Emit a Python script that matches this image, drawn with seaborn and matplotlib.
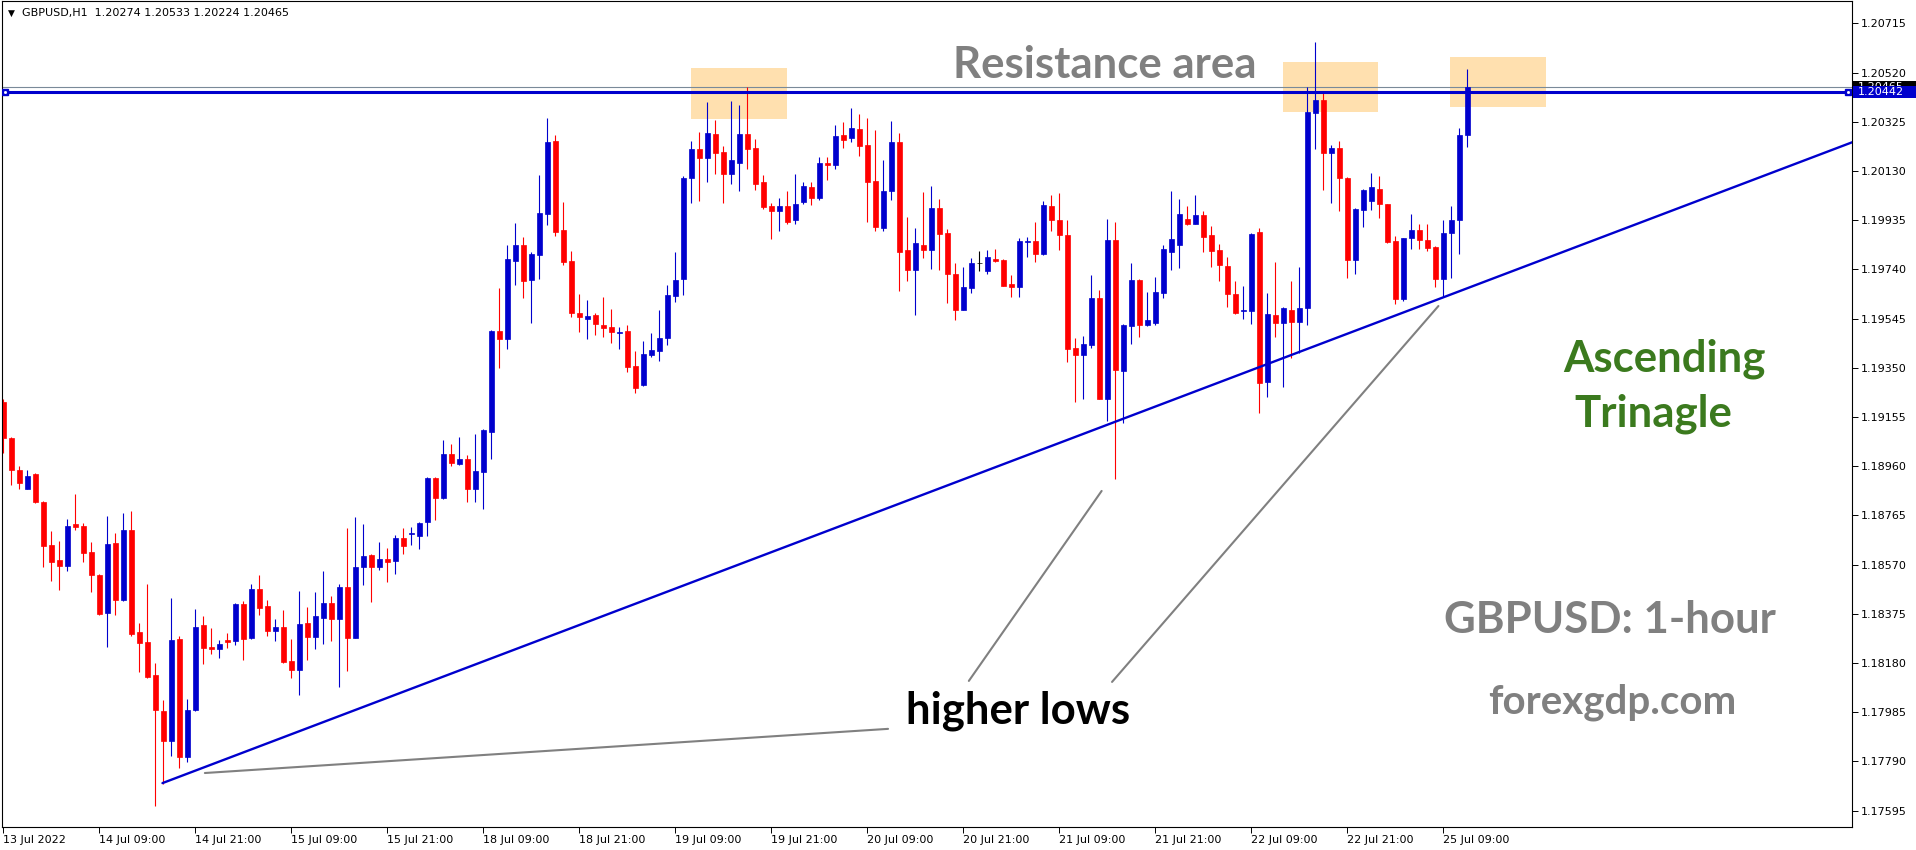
import matplotlib
matplotlib.use("Agg")
import matplotlib.pyplot as plt
import matplotlib.patches as mpatches
import matplotlib.transforms as mtransforms
import seaborn as sns
import pandas as pd
import numpy as np

sns.set_theme(style="white")
plt.rcParams['font.family'] = ['DejaVu Sans']

# GBPUSD H1 candles, one per hour from 13 Jul 21:00 to 25 Jul 12:00
opens = [
    1.19216, 1.19072, 1.18945, 1.18871, 1.18929, 1.18819, 1.18648, 1.18589, 1.18566, 1.18731,
    1.18723, 1.18620, 1.18529, 1.18380, 1.18656, 1.18430, 1.18708, 1.18303, 1.18264, 1.18133,
    1.17990, 1.17869, 1.18276, 1.17809, 1.17994, 1.18331, 1.18244, 1.18237, 1.18272, 1.18269,
    1.18414, 1.18280, 1.18474, 1.18406, 1.18305, 1.18323, 1.18188, 1.18154, 1.18339, 1.18285,
    1.18360, 1.18418, 1.18356, 1.18482, 1.18281, 1.18561, 1.18608, 1.18562, 1.18593, 1.18586,
    1.18676, 1.18693, 1.18685, 1.18737, 1.18914, 1.18836, 1.19009, 1.18967, 1.18989, 1.18871,
    1.18939, 1.19097, 1.19496, 1.19466, 1.19775, 1.19837, 1.19700, 1.19799, 1.19961, 1.20249,
    1.19897, 1.19774, 1.19568, 1.19545, 1.19560, 1.19520, 1.19512, 1.19490, 1.19496, 1.19358,
    1.19280, 1.19401, 1.19418, 1.19470, 1.19636, 1.19704, 1.20104, 1.20218, 1.20183, 1.20277,
    1.20206, 1.20120, 1.20163, 1.20277, 1.20222, 1.20087, 1.19992, 1.19973, 1.19992, 1.19934,
    1.20009, 1.20067, 1.20025, 1.20162, 1.20155, 1.20273, 1.20262, 1.20297, 1.20233, 1.20091,
    1.19906, 1.20052, 1.20245, 1.19817, 1.19739, 1.19837, 1.19819, 1.19984, 1.19885, 1.19723,
    1.19581, 1.19668, 1.19766, 1.19735, 1.19782, 1.19778, 1.19683, 1.19672, 1.19849, 1.19853,
    1.19803, 1.19992, 1.19936, 1.19878, 1.19429, 1.19399, 1.19442, 1.19628, 1.19228, 1.19858,
    1.19339, 1.19514, 1.19700, 1.19520, 1.19529, 1.19648, 1.19811, 1.19835, 1.19938, 1.19922,
    1.19957, 1.19878, 1.19819, 1.19755, 1.19644, 1.19577, 1.19577, 1.19890, 1.19292, 1.19561,
    1.19529, 1.19581, 1.19531, 1.19587, 1.20362, 1.20411, 1.20200, 1.20223, 1.20103, 1.19777,
    1.19976, 1.20012, 1.20057, 1.19999, 1.19853, 1.19622, 1.19863, 1.19896, 1.19857, 1.19829,
    1.19704, 1.19885, 1.19937, 1.20274,
]
highs = [
    1.19225, 1.19077, 1.18961, 1.18945, 1.18933, 1.18822, 1.18704, 1.18664, 1.18751, 1.18850,
    1.18734, 1.18660, 1.18532, 1.18763, 1.18696, 1.18775, 1.18783, 1.18339, 1.18494, 1.18179,
    1.18034, 1.18438, 1.18287, 1.18038, 1.18394, 1.18367, 1.18319, 1.18272, 1.18299, 1.18418,
    1.18426, 1.18494, 1.18529, 1.18430, 1.18355, 1.18391, 1.18276, 1.18466, 1.18402, 1.18462,
    1.18545, 1.18446, 1.18494, 1.18715, 1.18759, 1.18731, 1.18612, 1.18660, 1.18636, 1.18688,
    1.18715, 1.18719, 1.18739, 1.18916, 1.18916, 1.19064, 1.19048, 1.19076, 1.19005, 1.19088,
    1.19106, 1.19500, 1.19667, 1.19837, 1.19924, 1.19869, 1.19809, 1.20115, 1.20340, 1.20273,
    1.20008, 1.19813, 1.19643, 1.19619, 1.19568, 1.19631, 1.19583, 1.19512, 1.19520, 1.19417,
    1.19457, 1.19488, 1.19580, 1.19679, 1.19809, 1.20111, 1.20249, 1.20285, 1.20404, 1.20332,
    1.20229, 1.20408, 1.20392, 1.20463, 1.20257, 1.20115, 1.20004, 1.20025, 1.20051, 1.20118,
    1.20088, 1.20088, 1.20186, 1.20186, 1.20313, 1.20325, 1.20380, 1.20356, 1.20340, 1.20293,
    1.20174, 1.20329, 1.20281, 1.19949, 1.19904, 1.20045, 1.20071, 1.20021, 1.19901, 1.19767,
    1.19751, 1.19786, 1.19813, 1.19817, 1.19821, 1.19780, 1.19718, 1.19866, 1.19870, 1.19928,
    1.20012, 1.20035, 1.20043, 1.19934, 1.19470, 1.19478, 1.19718, 1.19659, 1.19938, 1.19930,
    1.19525, 1.19767, 1.19703, 1.19652, 1.19712, 1.19837, 1.20049, 1.20021, 1.19993, 1.20037,
    1.19973, 1.19914, 1.19839, 1.19791, 1.19696, 1.19676, 1.19885, 1.19906, 1.19648, 1.19771,
    1.19591, 1.19695, 1.19751, 1.20465, 1.20642, 1.20439, 1.20232, 1.20249, 1.20105, 1.19984,
    1.20057, 1.20122, 1.20111, 1.20001, 1.19874, 1.19866, 1.19958, 1.19922, 1.19922, 1.19831,
    1.19935, 1.19993, 1.20299, 1.20533,
]
lows = [
    1.19011, 1.18886, 1.18871, 1.18868, 1.18816, 1.18562, 1.18505, 1.18470, 1.18545, 1.18708,
    1.18581, 1.18463, 1.18369, 1.18245, 1.18371, 1.18424, 1.18289, 1.18145, 1.18120, 1.17615,
    1.17700, 1.17812, 1.17762, 1.17788, 1.17990, 1.18177, 1.18216, 1.18200, 1.18240, 1.18252,
    1.18192, 1.18277, 1.18371, 1.18287, 1.18268, 1.18182, 1.18121, 1.18055, 1.18192, 1.18237,
    1.18256, 1.18268, 1.18083, 1.18149, 1.18278, 1.18491, 1.18420, 1.18549, 1.18501, 1.18534,
    1.18614, 1.18649, 1.18630, 1.18685, 1.18748, 1.18832, 1.18959, 1.18963, 1.18820, 1.18820,
    1.18792, 1.18990, 1.19351, 1.19426, 1.19680, 1.19628, 1.19529, 1.19704, 1.19918, 1.19874,
    1.19759, 1.19553, 1.19494, 1.19466, 1.19482, 1.19474, 1.19450, 1.19426, 1.19335, 1.19252,
    1.19278, 1.19391, 1.19379, 1.19442, 1.19609, 1.19640, 1.20005, 1.20013, 1.20088, 1.20120,
    1.20005, 1.20080, 1.20052, 1.20140, 1.20056, 1.19981, 1.19862, 1.19894, 1.19922, 1.19922,
    1.20001, 1.19997, 1.20017, 1.20096, 1.20140, 1.20222, 1.20247, 1.20191, 1.19930, 1.19894,
    1.19894, 1.20017, 1.19656, 1.19696, 1.19561, 1.19787, 1.19743, 1.19739, 1.19605, 1.19541,
    1.19578, 1.19648, 1.19735, 1.19720, 1.19771, 1.19674, 1.19632, 1.19632, 1.19791, 1.19771,
    1.19799, 1.19894, 1.19819, 1.19375, 1.19216, 1.19228, 1.19430, 1.19225, 1.19141, 1.18909,
    1.19133, 1.19446, 1.19474, 1.19514, 1.19518, 1.19628, 1.19739, 1.19747, 1.19918, 1.19920,
    1.19811, 1.19751, 1.19696, 1.19593, 1.19562, 1.19545, 1.19525, 1.19169, 1.19236, 1.19474,
    1.19276, 1.19387, 1.19408, 1.19518, 1.20219, 1.20053, 1.20004, 1.19973, 1.19706, 1.19721,
    1.19909, 1.19976, 1.19943, 1.19846, 1.19603, 1.19615, 1.19820, 1.19820, 1.19814, 1.19669,
    1.19631, 1.19706, 1.19801, 1.20224,
]
closes = [
    1.19071, 1.18944, 1.18895, 1.18922, 1.18819, 1.18645, 1.18582, 1.18566, 1.18723, 1.18721,
    1.18618, 1.18527, 1.18376, 1.18652, 1.18431, 1.18708, 1.18295, 1.18261, 1.18126, 1.17992,
    1.17869, 1.18272, 1.17809, 1.17994, 1.18323, 1.18241, 1.18237, 1.18256, 1.18265, 1.18414,
    1.18277, 1.18474, 1.18398, 1.18305, 1.18323, 1.18184, 1.18154, 1.18335, 1.18285, 1.18367,
    1.18418, 1.18356, 1.18482, 1.18281, 1.18561, 1.18605, 1.18562, 1.18593, 1.18582, 1.18676,
    1.18645, 1.18696, 1.18735, 1.18914, 1.18836, 1.19009, 1.18974, 1.18989, 1.18871, 1.18941,
    1.19104, 1.19496, 1.19466, 1.19782, 1.19837, 1.19696, 1.19801, 1.19964, 1.20245, 1.19890,
    1.19771, 1.19569, 1.19553, 1.19556, 1.19525, 1.19509, 1.19494, 1.19492, 1.19355, 1.19272,
    1.19405, 1.19421, 1.19469, 1.19639, 1.19698, 1.20103, 1.20218, 1.20183, 1.20281, 1.20203,
    1.20120, 1.20174, 1.20277, 1.20219, 1.20080, 1.19989, 1.19973, 1.19992, 1.19930, 1.20000,
    1.20071, 1.20025, 1.20162, 1.20155, 1.20269, 1.20255, 1.20301, 1.20231, 1.20088, 1.19910,
    1.20051, 1.20245, 1.19811, 1.19739, 1.19845, 1.19819, 1.19984, 1.19882, 1.19723, 1.19581,
    1.19671, 1.19766, 1.19766, 1.19790, 1.19775, 1.19676, 1.19672, 1.19853, 1.19853, 1.19803,
    1.19996, 1.19934, 1.19878, 1.19426, 1.19399, 1.19445, 1.19628, 1.19228, 1.19858, 1.19343,
    1.19518, 1.19700, 1.19518, 1.19541, 1.19652, 1.19821, 1.19862, 1.19961, 1.19922, 1.19957,
    1.19870, 1.19815, 1.19759, 1.19644, 1.19569, 1.19581, 1.19882, 1.19288, 1.19565, 1.19529,
    1.19589, 1.19531, 1.19587, 1.20364, 1.20411, 1.20200, 1.20223, 1.20103, 1.19777, 1.19980,
    1.20053, 1.20066, 1.19999, 1.19848, 1.19622, 1.19863, 1.19896, 1.19857, 1.19825, 1.19704,
    1.19885, 1.19937, 1.20273, 1.20465,
]

tick_bars = [0, 12, 24, 36, 48, 60, 72, 84, 96, 108, 120, 132, 144, 156, 168, 180]
tick_labels = ["13 Jul 2022", "14 Jul 09:00", "14 Jul 21:00", "15 Jul 09:00",
               "15 Jul 21:00", "18 Jul 09:00", "18 Jul 21:00", "19 Jul 09:00",
               "19 Jul 21:00", "20 Jul 09:00", "20 Jul 21:00", "21 Jul 09:00",
               "21 Jul 21:00", "22 Jul 09:00", "22 Jul 21:00", "25 Jul 09:00"]
price_ticks = [1.20715, 1.20520, 1.20325, 1.20130, 1.19935, 1.19740, 1.19545, 1.19350,
               1.19155, 1.18960, 1.18765, 1.18570, 1.18375, 1.18180, 1.17985, 1.17790,
               1.17595]

header = "GBPUSD,H1  1.20274 1.20533 1.20224 1.20465"
resistance = 1.20442
bid = 1.20465

# ascending trendline (bar, price)
trend_bars = [19.9, 231.2]
trend_prices = [1.17704, 1.20245]

# grey pointer lines for "higher lows"
pointer_a = ([25.2, 110.6], [1.17744, 1.17919])
pointer_b = ([120.7, 137.3], [1.18109, 1.18862])
pointer_c = ([138.6, 179.4], [1.18105, 1.19595])

# resistance boxes: bar from, bar to, price low, price high
zone_start = [86.0, 160.0, 180.9]
zone_end = [98.0, 171.9, 192.9]
zone_low = [1.20336, 1.20364, 1.20385]
zone_high = [1.20538, 1.20562, 1.20583]

BLUE = "#0000CD"
RED = "#FF0000"
GREY = "#808080"
GREEN = "#3B7A1E"
ZONE = "#FFE0AF"

df = pd.DataFrame({"open": opens, "high": highs, "low": lows, "close": closes})
df["bar"] = np.arange(len(df))
df["color"] = np.where(df.close > df.open, BLUE,
                       np.where(df.close < df.open, RED, "black"))
df["body_lo"] = df[["open", "close"]].min(axis=1)
df["body_h"] = (df.close - df.open).abs()

W, H = 1916, 850
fig = plt.figure(figsize=(W / 100, H / 100), dpi=100)
ax = fig.add_axes([2 / W, 23 / H, 1850 / W, 826 / H])
ax.set_facecolor("white")

for s, e, lo, hi in zip(zone_start, zone_end, zone_low, zone_high):
    ax.add_patch(mpatches.Rectangle((s, lo), e - s, hi - lo, facecolor=ZONE,
                                    edgecolor="none", zorder=0.5))

ax.axhline(bid, color="#7A8A99", linewidth=0.8, zorder=1)

ax.vlines(df.bar, df.low, df.high, colors=df.color, linewidth=0.8, zorder=2)
ax.bar(df.bar, df.body_h, bottom=df.body_lo, width=0.58, color=df.color,
       edgecolor=df.color, linewidth=0.5, zorder=2)

ax.axhline(resistance, color=BLUE, linewidth=2.2, zorder=3)
ax.plot([0.2, 230.6], [resistance, resistance], linestyle="none", marker="s",
        markersize=4.5, color=BLUE, zorder=4)
ax.plot([0.2, 230.6], [resistance, resistance], linestyle="none", marker="s",
        markersize=1, color="white", zorder=5)

sns.lineplot(x=trend_bars, y=trend_prices, ax=ax, color=BLUE, linewidth=1.7,
             zorder=3)
for px, py in (pointer_a, pointer_b, pointer_c):
    sns.lineplot(x=px, y=py, ax=ax, color=GREY, linewidth=1.5, zorder=3)

big = dict(family=["Lato", "DejaVu Sans"], fontweight="bold", fontsize=31.5)
ax.text(137.7, 1.20499, "Resistance area", color=GREY, ha="center",
        va="baseline", **big)
ax.text(207.7, 1.19336, "Ascending", color=GREEN, ha="center", va="baseline", **big)
ax.text(206.3, 1.19116, "Trinagle", color=GREEN, ha="center", va="baseline", **big)
ax.text(200.9, 1.18297, "GBPUSD: 1-hour", color=GREY, ha="center",
        va="baseline", **big)
ax.text(201.1, 1.17981, "forexgdp.com", color=GREY, ha="center", va="baseline",
        family=["Lato", "DejaVu Sans"], fontweight="bold", fontsize=29)
ax.text(126.8, 1.17942, "higher lows", color="black", ha="center",
        va="baseline", **big)

ax.set_xlim(-0.16, 231.1)
ax.set_ylim(1.17530, 1.20804)

ax.set_xticks(tick_bars)
ax.set_xticklabels(tick_labels, ha="left")
ax.yaxis.tick_right()
ax.set_yticks(price_ticks)
ax.set_yticklabels([f"{p:.5f}" for p in price_ticks])
ax.tick_params(axis="x", bottom=True, direction="out", length=4, width=0.7,
               pad=1.5, labelsize=8, colors="black")
ax.tick_params(axis="y", right=True, left=False, direction="out", length=4,
               width=0.7, pad=2, labelsize=8, colors="black")
ax.set_xlabel("")
ax.set_ylabel("")
for sp in ax.spines.values():
    sp.set_visible(True)
    sp.set_color("black")
    sp.set_linewidth(0.8)

# price tags on the right scale (bid in black, line level in blue on top)
tag_tr = mtransforms.blended_transform_factory(fig.transFigure, ax.transData)
tag_h = 12 / 826 * (1.20804 - 1.17530)
for level, face, z in ((bid, "black", 6), (resistance, BLUE, 8)):
    fig.add_artist(mpatches.Rectangle((1853 / W, level - tag_h / 2),
                                      1 - 1853 / W, tag_h, transform=tag_tr,
                                      facecolor=face, edgecolor="none",
                                      zorder=z))
    fig.text(1858 / W, level, f"{level:.5f}", transform=tag_tr, color="white",
             fontsize=8, va="center", ha="left", zorder=z + 1)

fig.text(11 / W, 1 - 13 / H, "▼", fontsize=6.5, color="black", ha="center",
         va="center")
fig.text(22 / W, 1 - 13 / H, header, fontsize=8, color="black", ha="left",
         va="center")

fig.savefig("out.png", dpi=100)
